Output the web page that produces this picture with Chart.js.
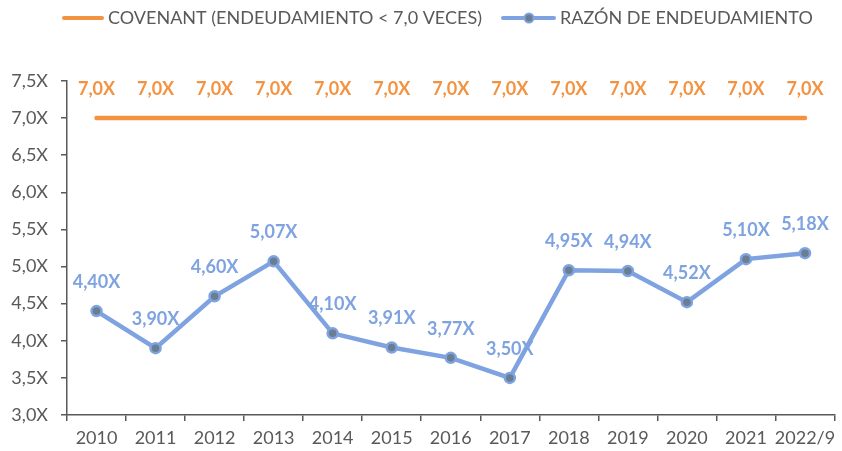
<!DOCTYPE html>
<html>
<head>
<meta charset="utf-8">
<script src="https://cdn.jsdelivr.net/npm/chart.js@4"></script>
<style>
  html, body { margin: 0; padding: 0; background: #fff; }
  #wrap { width: 842px; height: 451px; }
</style>
</head>
<body>
<div id="wrap"><canvas id="ratioChart"></canvas></div>
<script>
// chart data
const years = ['2010', '2011', '2012', '2013', '2014', '2015', '2016', '2017', '2018', '2019', '2020', '2021', '2022/9'];
const ratio = [4.40, 3.90, 4.60, 5.07, 4.10, 3.91, 3.77, 3.50, 4.95, 4.94, 4.52, 5.10, 5.18];
const covenant = [7.0, 7.0, 7.0, 7.0, 7.0, 7.0, 7.0, 7.0, 7.0, 7.0, 7.0, 7.0, 7.0];
const yTicks = [3.0, 3.5, 4.0, 4.5, 5.0, 5.5, 6.0, 6.5, 7.0, 7.5];

const ORANGE = '#f39240';
const BLUE = '#7ea3e0';
const GREY = '#595959';
const FONT = 'Lato, "Open Sans", sans-serif';

function fmt(v, dec) {
    return v.toFixed(dec).replace('.', ',') + 'X';
}

// value labels above each point
const labelPlugin = {
    id: 'valueLabels',
    afterDatasetsDraw(chart) {
        const ctx = chart.ctx;
        ctx.save();
        ctx.textAlign = 'center';
        ctx.textBaseline = 'middle';
        ctx.font = 'bold 18px ' + FONT;
        chart.data.datasets.forEach((ds, i) => {
            const meta = chart.getDatasetMeta(i);
            ctx.fillStyle = ds.borderColor;
            meta.data.forEach((pt, j) => {
                ctx.fillText(fmt(ds.data[j], i === 0 ? 1 : 2), pt.x, pt.y - 29);
            });
        });
        ctx.restore();
    }
};

// legend drawn like the spreadsheet one
const legendPlugin = {
    id: 'topLegend',
    afterDraw(chart) {
        const ctx = chart.ctx;
        ctx.save();
        ctx.font = '18px ' + FONT;
        ctx.textBaseline = 'middle';
        ctx.fillStyle = GREY;
        const y = 18;
        ctx.lineCap = 'round';
        ctx.lineWidth = 4;
        ctx.strokeStyle = ORANGE;
        ctx.beginPath(); ctx.moveTo(64, y); ctx.lineTo(102, y); ctx.stroke();
        ctx.fillText('COVENANT (ENDEUDAMIENTO < 7,0 VECES)', 108, y);
        ctx.strokeStyle = BLUE;
        ctx.beginPath(); ctx.moveTo(503, y); ctx.lineTo(554, y); ctx.stroke();
        ctx.beginPath(); ctx.arc(529, y, 4.5, 0, Math.PI * 2);
        ctx.fillStyle = '#6b7d90'; ctx.fill();
        ctx.lineWidth = 2; ctx.stroke();
        ctx.fillStyle = GREY;
        ctx.fillText('RAZÓN DE ENDEUDAMIENTO', 560, y);
        ctx.restore();
    }
};

new Chart(document.getElementById('ratioChart'), {
    type: 'line',
    data: {
        labels: years,
        datasets: [{
            label: 'COVENANT (ENDEUDAMIENTO < 7,0 VECES)',
            data: covenant,
            borderColor: ORANGE,
            borderWidth: 4.5,
            borderCapStyle: 'round',
            pointRadius: 0,
            pointHoverRadius: 0
        }, {
            label: 'RAZÓN DE ENDEUDAMIENTO',
            data: ratio,
            borderColor: BLUE,
            borderWidth: 4.5,
            pointRadius: 5,
            pointBackgroundColor: '#6b7d90',
            pointBorderColor: BLUE,
            pointBorderWidth: 2.5,
            tension: 0
        }]
    },
    options: {
        responsive: true,
        maintainAspectRatio: false,
        animation: false,
        layout: { padding: { top: 81, right: 7, left: 0, bottom: 0 } },
        plugins: {
            legend: { display: false },
            tooltip: { enabled: false }
        },
        scales: {
            x: {
                offset: true,
                grid: { offset: true, drawOnChartArea: false, tickLength: 6, color: GREY, lineWidth: 1.5 },
                border: { color: GREY, width: 1.5 },
                ticks: { color: GREY, font: { family: FONT, size: 18 }, padding: 6, maxRotation: 0, autoSkip: false },
                afterFit(scale) { scale.height = 36; }
            },
            y: {
                min: 3.0,
                max: 7.5,
                afterBuildTicks(scale) { scale.ticks = yTicks.map(v => ({ value: v })); },
                grid: { drawOnChartArea: false, tickLength: 6, color: GREY, lineWidth: 1.5 },
                border: { color: GREY, width: 1.5 },
                ticks: {
                    color: GREY,
                    font: { family: FONT, size: 18 },
                    padding: 13,
                    callback: v => fmt(v, 1)
                },
                afterFit(scale) { scale.width = 67; }
            }
        }
    },
    plugins: [labelPlugin, legendPlugin]
});
</script>
</body>
</html>
